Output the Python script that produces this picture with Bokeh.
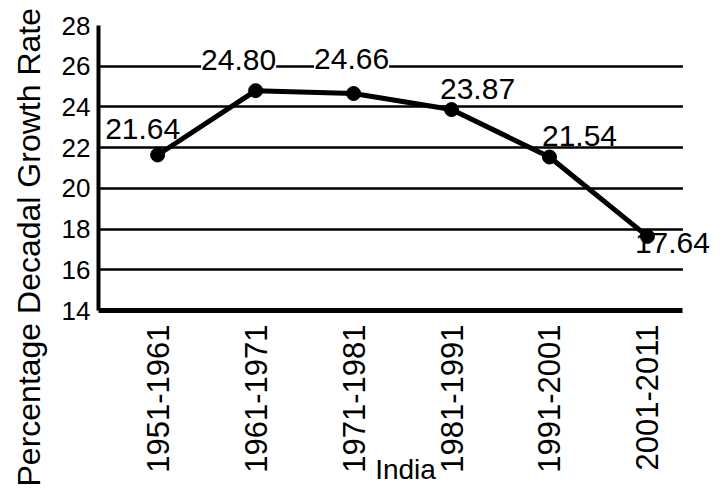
import math
from bokeh.plotting import figure
from bokeh.models import ColumnDataSource, LabelSet, Title, FixedTicker, Range1d, BoxAnnotation
from bokeh.core.properties import value
from bokeh.embed import file_html
from bokeh.resources import INLINE

# ---- data ----
periods = ["1951-1961", "1961-1971", "1971-1981", "1981-1991", "1991-2001", "2001-2011"]
growth = [21.64, 24.80, 24.66, 23.87, 21.54, 17.64]
value_labels = ["21.64", "24.80", "24.66", "23.87", "21.54", "17.64"]
y_ticks = [14, 16, 18, 20, 22, 24, 26, 28]

# ---- label placement / style (pixels) ----
label_dx = [-15, -17, -2, 26, 30, 25]
label_dy = [26, 31, 34, 21, 21, -7]
label_bg_alpha = [0, 1, 1, 0, 0, 0]   # labels that interrupt the grid line

FONT = "Liberation Sans"
x = list(range(len(periods)))

src = ColumnDataSource(dict(x=x, y=growth, lab=value_labels, dx=label_dx, dy=label_dy,
                            bg=label_bg_alpha))

# horizontal layout: frame spans the full right side, grid/axis stop earlier
x0, x1 = -0.604, 5.664
x_grid_end = 5.362

p = figure(width=712, height=493, output_backend="svg", toolbar_location=None,
           x_range=Range1d(x0, x1), y_range=Range1d(14, 28),
           min_border_left=89, min_border_right=0, min_border_top=25, min_border_bottom=183)
p.outline_line_color = None
p.background_fill_color = "white"

# axes
p.xaxis.ticker = FixedTicker(ticks=x)
p.xaxis.major_label_overrides = {i: s for i, s in enumerate(periods)}
p.xaxis.major_label_orientation = math.pi / 2
p.xaxis.major_label_text_font = FONT
p.xaxis.major_label_text_font_size = "31px"
p.xaxis.major_label_text_color = "black"
p.xaxis.major_label_standoff = 8
p.xaxis.major_tick_line_color = None
p.xaxis.minor_tick_line_color = None
p.xaxis.axis_line_width = 5
p.xaxis.axis_line_color = "black"
p.xaxis.bounds = (x0, x_grid_end)
p.xaxis.axis_label = "India"
p.xaxis.axis_label_text_font = FONT
p.xaxis.axis_label_text_font_style = "normal"
p.xaxis.axis_label_text_font_size = "28px"
p.xaxis.axis_label_text_color = "black"
p.xaxis.axis_label_standoff = -22

p.yaxis.ticker = FixedTicker(ticks=y_ticks)
p.yaxis.major_label_text_font = FONT
p.yaxis.major_label_text_font_size = "26px"
p.yaxis.major_label_text_color = "black"
p.yaxis.major_label_standoff = 2
p.yaxis.major_tick_line_color = None
p.yaxis.minor_tick_line_color = None
p.yaxis.axis_line_width = 4
p.yaxis.axis_line_color = "black"

# grid
p.xgrid.grid_line_color = None
p.ygrid.ticker = FixedTicker(ticks=y_ticks[1:])
p.ygrid.grid_line_color = "black"
p.ygrid.grid_line_width = 2.5
p.ygrid.grid_line_alpha = 1.0

# mask grid lines to the right of where they end in the original
p.add_layout(BoxAnnotation(left=x_grid_end, fill_color="white", fill_alpha=1.0,
                           line_color=None, level="glyph"))

# line + markers
p.line("x", "y", source=src, line_color="black", line_width=5)
p.scatter("x", "y", source=src, size=14, fill_color="black", line_color="black")

labels = LabelSet(x="x", y="y", text="lab", source=src, x_offset="dx", y_offset="dy",
                  text_align="center", text_baseline="middle",
                  text_font=value(FONT), text_font_size=value("30px"), text_color="black",
                  background_fill_color="white", background_fill_alpha="bg")
p.add_layout(labels)

# y-axis title in the left panel, starting near the bottom of the picture
ytitle = Title(text="Percentage Decadal Growth Rate", align="left", offset=-176,
               vertical_align="top",
               text_font=FONT, text_font_size="32px", text_font_style="normal",
               text_color="black", standoff=20)
p.add_layout(ytitle, "left")

open("out.html", "w").write(file_html(p, INLINE))
